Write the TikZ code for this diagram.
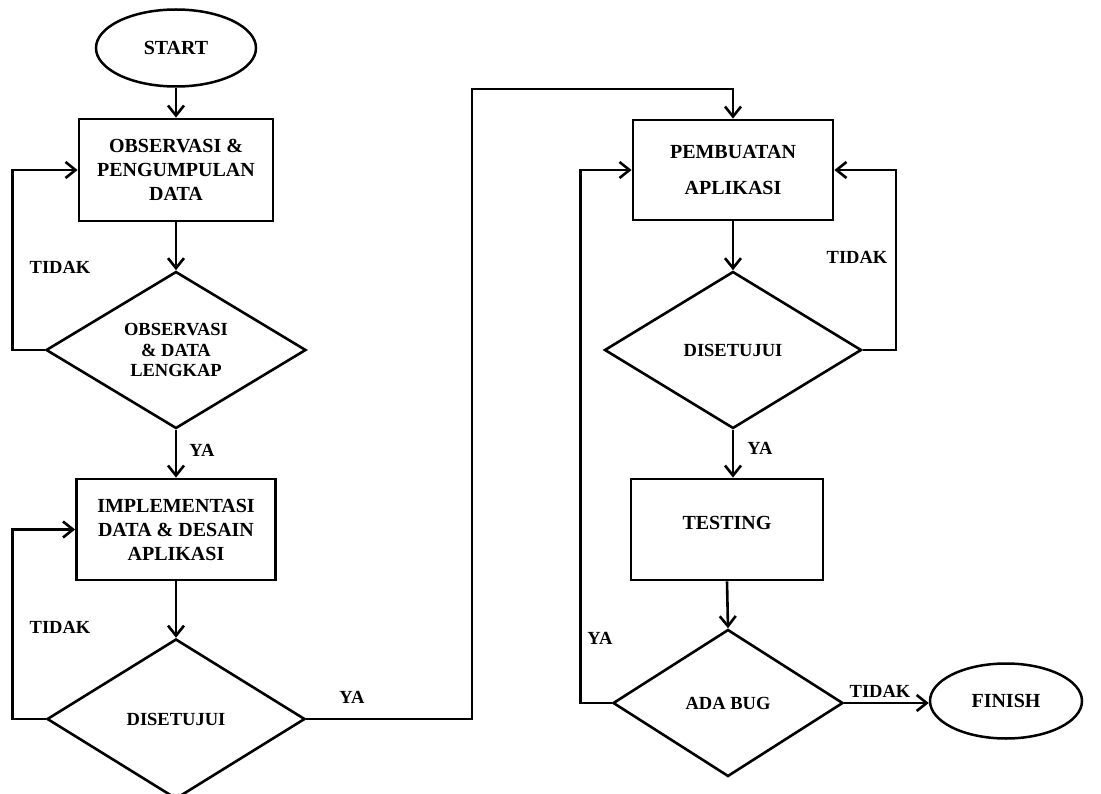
\documentclass[tikz,border=0pt]{standalone}
\usepackage{fontspec}
\setmainfont{Liberation Serif}
\usetikzlibrary{shapes.geometric,arrows.meta}
\tikzset{
  big/.style={font=\bfseries\fontsize{20}{24}\selectfont, align=center},
  small/.style={font=\bfseries\fontsize{18.5}{20.5}\selectfont, align=center},
  procbox/.style={draw, rectangle, line width=2.8pt, inner sep=0pt, big},
  term/.style={draw, ellipse, line width=2.5pt, inner sep=0pt, big},
  decide/.style={draw, diamond, line width=2.6pt, inner sep=0pt, shape aspect=1.65, small},
  lbl/.style={small, inner sep=0pt},
  flow/.style={line width=2.6pt, -{Straight Barb[length=10pt,width=16pt]}},
  link/.style={line width=2.6pt}
}
\begin{document}
\begin{tikzpicture}[x=1pt,y=-1pt]
\useasboundingbox (0,0) rectangle (1101,794);
\node[term, minimum width=160pt, minimum height=77pt] (start) at (176,48) {START};
\node[procbox, minimum width=194pt, minimum height=102pt] (box1) at (176,170) {OBSERVASI \&\\PENGUMPULAN\\DATA};
\node[decide, minimum width=260pt, minimum height=157pt] (d1) at (176,350) {OBSERVASI\\\& DATA\\LENGKAP};
\node[procbox, minimum width=199pt, minimum height=101pt] (box2) at (176,529.5) {IMPLEMENTASI\\DATA \& DESAIN\\APLIKASI};
\node[decide, minimum width=258pt, minimum height=160pt] (d2) at (176,719) {DISETUJUI};
\node[procbox, minimum width=200pt, minimum height=100pt] (box3) at (733,170) {PEMBUATAN\\[12pt]APLIKASI};
\node[decide, minimum width=257pt, minimum height=157pt] (d3) at (733,350) {DISETUJUI};
\node[procbox, minimum width=192pt, minimum height=101pt, text depth=13pt] (test) at (727,529.5) {TESTING};
\node[decide, minimum width=230pt, minimum height=147pt] (d4) at (728,703) {ADA BUG};
\node[term, minimum width=152pt, minimum height=75pt] (finish) at (1006,701) {FINISH};
\coordinate (top) at (472,89);

\draw[flow] (start) -- (box1);
\draw[flow] (box1) -- (d1);
\draw[flow] (d1) -- (box2);
\draw[flow] (box2) -- (d2);
\draw[flow] (d1.west) -- ++(-32,0) |- (box1.west);
\draw[flow] (d2.west) -- ++(-33,0) |- (box2.west);
\draw[flow] (d2.east) -| (top) -| (box3.north);
\draw[flow] (box3) -- (d3);
\draw[flow] (d3.east) -- ++(33,0) |- (box3.east);
\draw[flow] (d3.south) -- (d3.south |- test.north);
\draw[flow] (test.south) -- (d4.north);
\draw[flow] (d4.west) -- ++(-31,0) |- (box3.west);
\draw[flow] (d4.east) -- (d4.east -| finish.west);

\node[lbl] (t1) at (60,267) {TIDAK};
\node[lbl] (t2) at (60,627) {TIDAK};
\node[lbl] (y1) at (202,450) {YA};
\node[lbl] (y2) at (352,697) {YA};
\node[lbl] (t3) at (857,257) {TIDAK};
\node[lbl] (y3) at (760,448) {YA};
\node[lbl] (y4) at (600,638) {YA};
\node[lbl] (t4) at (880,691) {TIDAK};
\end{tikzpicture}
\end{document}
